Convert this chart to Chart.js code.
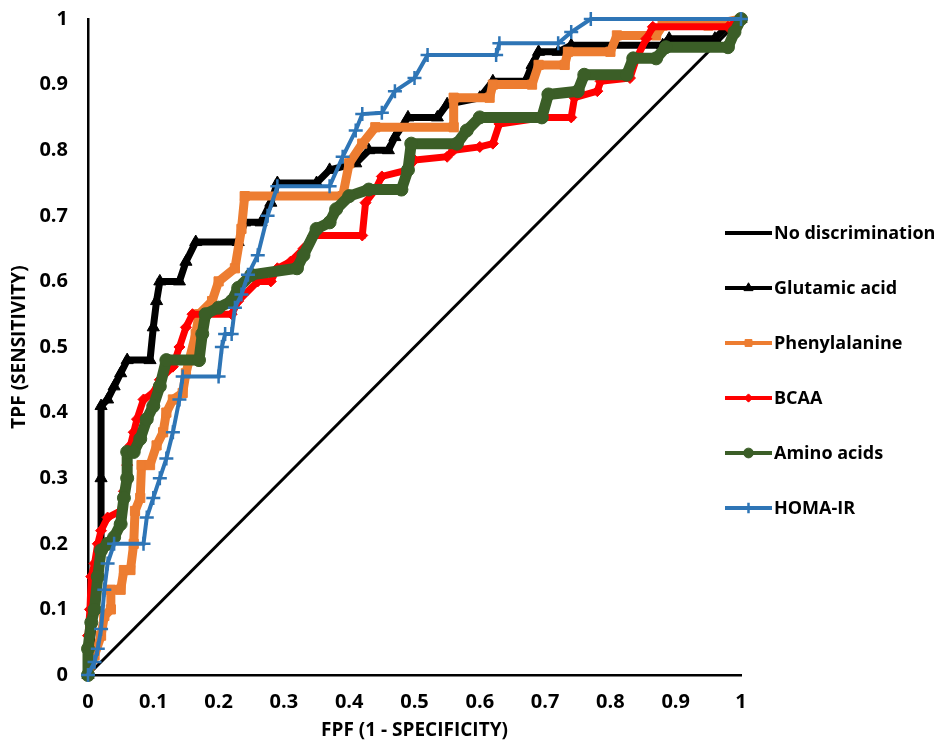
<!DOCTYPE html>
<html>
<head>
<meta charset="utf-8">
<title>ROC curves</title>
<script src="https://cdn.jsdelivr.net/npm/chart.js@4.4.1/dist/chart.umd.min.js"></script>
<style>
  body { margin: 0; background: #fff; }
</style>
</head>
<body>
<canvas id="rocChart" width="941" height="742"></canvas>
<script>
// Tick labels (both axes)
const tickLabels = ['0', '0.1', '0.2', '0.3', '0.4', '0.5', '0.6', '0.7', '0.8', '0.9', '1'];

// Series names, in legend order
const seriesNames = ['No discrimination', 'Glutamic acid', 'Phenylalanine', 'BCAA', 'Amino acids', 'HOMA-IR'];

// ROC vertices: [FPF, TPF]
const noDiscrimination = [[0, 0], [1, 1]];

const glutamicAcid = [[0, 0], [0.005, 0.05], [0.01, 0.1], [0.015, 0.15], [0.02, 0.2], [0.02, 0.3], [0.02, 0.41],
  [0.03, 0.42], [0.04, 0.44], [0.05, 0.46], [0.06, 0.48], [0.095, 0.48], [0.1, 0.53], [0.105, 0.57], [0.11, 0.6],
  [0.14, 0.6], [0.15, 0.63], [0.165, 0.66], [0.23, 0.66], [0.24, 0.69], [0.265, 0.69], [0.28, 0.72], [0.29, 0.75],
  [0.35, 0.75], [0.37, 0.77], [0.41, 0.78], [0.43, 0.8], [0.46, 0.8], [0.47, 0.82], [0.49, 0.85], [0.535, 0.85],
  [0.55, 0.87], [0.6, 0.88], [0.62, 0.905], [0.67, 0.905], [0.68, 0.93], [0.69, 0.95], [0.72, 0.95], [0.74, 0.96],
  [0.88, 0.96], [0.89, 0.97], [0.96, 0.97], [0.98, 0.99], [1, 1]];

const phenylalanine = [[0, 0], [0.01, 0.03], [0.02, 0.06], [0.025, 0.09], [0.035, 0.1], [0.035, 0.13], [0.05, 0.13],
  [0.055, 0.16], [0.065, 0.16], [0.07, 0.2], [0.072, 0.25], [0.08, 0.27], [0.082, 0.32], [0.095, 0.32], [0.105, 0.35],
  [0.115, 0.37], [0.12, 0.4], [0.13, 0.42], [0.145, 0.43], [0.15, 0.46], [0.155, 0.48], [0.165, 0.52], [0.17, 0.55],
  [0.19, 0.57], [0.2, 0.6], [0.225, 0.62], [0.235, 0.68], [0.24, 0.73], [0.39, 0.73], [0.4, 0.78], [0.42, 0.81],
  [0.44, 0.835], [0.56, 0.835], [0.56, 0.88], [0.615, 0.88], [0.62, 0.9], [0.68, 0.9], [0.69, 0.93], [0.73, 0.93],
  [0.735, 0.95], [0.8, 0.95], [0.81, 0.975], [0.87, 0.975], [0.88, 0.99], [0.95, 0.99], [1, 1]];

const bcaa = [[0, 0], [0, 0.06], [0.003, 0.1], [0.005, 0.15], [0.01, 0.17], [0.015, 0.2], [0.02, 0.22], [0.03, 0.24],
  [0.05, 0.25], [0.055, 0.28], [0.06, 0.32], [0.065, 0.35], [0.07, 0.37], [0.075, 0.39], [0.085, 0.42], [0.1, 0.43],
  [0.11, 0.45], [0.13, 0.47], [0.14, 0.5], [0.15, 0.53], [0.16, 0.55], [0.22, 0.55], [0.23, 0.57], [0.26, 0.6],
  [0.28, 0.6], [0.29, 0.62], [0.31, 0.63], [0.33, 0.65], [0.345, 0.67], [0.42, 0.67], [0.425, 0.72], [0.44, 0.74],
  [0.45, 0.76], [0.49, 0.77], [0.5, 0.785], [0.55, 0.79], [0.56, 0.8], [0.6, 0.805], [0.62, 0.81], [0.63, 0.84],
  [0.7, 0.85], [0.74, 0.85], [0.745, 0.88], [0.78, 0.89], [0.785, 0.905], [0.83, 0.91], [0.84, 0.94], [0.855, 0.97],
  [0.865, 0.988], [0.98, 0.988], [1, 1]];

const aminoAcids = [[0, 0], [0, 0.04], [0.005, 0.08], [0.01, 0.1], [0.015, 0.15], [0.02, 0.19], [0.03, 0.2], [0.04, 0.21],
  [0.05, 0.23], [0.055, 0.27], [0.06, 0.3], [0.06, 0.34], [0.07, 0.34], [0.08, 0.36], [0.09, 0.39], [0.1, 0.41],
  [0.11, 0.44], [0.12, 0.48], [0.17, 0.48], [0.175, 0.52], [0.18, 0.55], [0.2, 0.56], [0.22, 0.57], [0.23, 0.59],
  [0.25, 0.61], [0.32, 0.62], [0.33, 0.64], [0.35, 0.68], [0.37, 0.69], [0.38, 0.71], [0.4, 0.73], [0.43, 0.74],
  [0.48, 0.74], [0.49, 0.77], [0.495, 0.81], [0.565, 0.81], [0.58, 0.83], [0.6, 0.85], [0.695, 0.85], [0.705, 0.885],
  [0.75, 0.89], [0.76, 0.915], [0.825, 0.915], [0.835, 0.94], [0.87, 0.94], [0.885, 0.957], [0.98, 0.957], [0.99, 0.98],
  [1, 1]];

const homaIR = [[0, 0], [0.01, 0.02], [0.015, 0.04], [0.02, 0.07], [0.025, 0.13], [0.03, 0.17], [0.04, 0.2], [0.085, 0.2],
  [0.09, 0.24], [0.1, 0.27], [0.11, 0.3], [0.12, 0.33], [0.13, 0.37], [0.14, 0.42], [0.145, 0.455], [0.2, 0.455],
  [0.205, 0.5], [0.21, 0.52], [0.22, 0.52], [0.225, 0.56], [0.235, 0.58], [0.245, 0.61], [0.26, 0.64], [0.275, 0.7],
  [0.29, 0.745], [0.37, 0.745], [0.39, 0.79], [0.41, 0.83], [0.42, 0.855], [0.45, 0.857], [0.47, 0.89], [0.5, 0.91],
  [0.52, 0.945], [0.625, 0.945], [0.63, 0.963], [0.72, 0.963], [0.74, 0.98], [0.77, 1], [1, 1]];

const seriesData = [noDiscrimination, glutamicAcid, phenylalanine, bcaa, aminoAcids, homaIR];

// Look of each series (same order as names)
const seriesColors = ['#000000', '#000000', '#ED7D31', '#FF0000', '#3B5E27', '#2E75B6'];
const lineWidths = [3, 7, 9, 7, 11, 4];
const markerStyles = [false, 'triangle', 'rect', 'rectRot', 'circle', 'cross'];
const markerSizes = [0, 7, 6.5, 5.5, 6.5, 7];

const FONT = '"Open Sans", "DejaVu Sans", sans-serif';

function toPoints(pairs) {
  return pairs.map(p => ({ x: p[0], y: p[1] }));
}

const datasets = seriesNames.map((name, i) => ({
  label: name,
  data: toPoints(seriesData[i]),
  borderColor: seriesColors[i],
  backgroundColor: seriesColors[i],
  borderWidth: lineWidths[i],
  borderJoinStyle: i === 4 ? 'round' : 'miter',
  pointStyle: markerStyles[i],
  pointRadius: markerSizes[i],
  pointHoverRadius: markerSizes[i],
  pointBackgroundColor: seriesColors[i],
  pointBorderColor: seriesColors[i],
  pointBorderWidth: markerStyles[i] === 'cross' ? 2.5 : 1,
  tension: 0,
  fill: false,
  clip: false,
  order: seriesNames.length - 1 - i // later series drawn on top, like Excel
}));

// Legend drawn at the right, overlapping the plot edge like the original
const legendX = 725;
const legendTop = 233;
const legendStep = 55;
const legendLineLen = 47;

const sideLegend = {
  id: 'sideLegend',
  afterDraw(chart) {
    const ctx = chart.ctx;
    chart.data.datasets.forEach((ds, i) => {
      const y = legendTop + i * legendStep;
      ctx.save();
      ctx.strokeStyle = ds.borderColor;
      ctx.lineWidth = 4;
      ctx.beginPath();
      ctx.moveTo(legendX, y);
      ctx.lineTo(legendX + legendLineLen, y);
      ctx.stroke();
      if (ds.pointStyle && Chart.helpers && Chart.helpers.drawPoint) {
        ctx.fillStyle = ds.pointBackgroundColor;
        ctx.strokeStyle = ds.pointBorderColor;
        ctx.lineWidth = ds.pointBorderWidth;
        Chart.helpers.drawPoint(ctx, {
          pointStyle: ds.pointStyle,
          radius: ds.pointRadius * 0.75,
          borderWidth: ds.pointBorderWidth,
          rotation: 0
        }, legendX + legendLineLen / 2, y);
      }
      ctx.fillStyle = '#000';
      ctx.font = 'bold 18px ' + FONT;
      ctx.textBaseline = 'middle';
      ctx.textAlign = 'left';
      ctx.fillText(ds.label, legendX + legendLineLen + 2, y + 1);
      ctx.restore();
    });
  }
};

const axisTicks = {
  color: '#000',
  font: { family: FONT, size: 20, weight: 'bold' },
  stepSize: 0.1,
  autoSkip: false,
  maxRotation: 0,
  callback: (value, index) => tickLabels[index]
};

new Chart(document.getElementById('rocChart').getContext('2d'), {
  type: 'line',
  data: { datasets: datasets },
  options: {
    responsive: false,
    animation: false,
    events: [],
    layout: { padding: { top: 19, right: 200, left: 0, bottom: 0 } },
    plugins: {
      legend: { display: false },
      tooltip: { enabled: false }
    },
    scales: {
      x: {
        type: 'linear',
        min: 0,
        max: 1,
        grid: { display: false, drawTicks: false },
        border: { display: true, color: '#000', width: 2.5 },
        ticks: Object.assign({}, axisTicks, { padding: 15 }),
        title: {
          display: true,
          text: 'FPF (1 - SPECIFICITY)',
          color: '#000',
          font: { family: FONT, size: 19, weight: 'bold' },
          padding: { top: 0, bottom: 0 }
        },
        afterFit(scale) {
          scale.height = 67;
          scale.paddingLeft = 0;
          scale.paddingRight = 0;
        }
      },
      y: {
        type: 'linear',
        min: 0,
        max: 1,
        grid: { display: false, drawTicks: false },
        border: { display: true, color: '#000', width: 2.5 },
        ticks: Object.assign({}, axisTicks, { padding: 20 }),
        title: {
          display: true,
          text: 'TPF (SENSITIVITY)',
          color: '#000',
          font: { family: FONT, size: 19, weight: 'bold' },
          padding: { top: 8, bottom: 0 }
        },
        afterFit(scale) {
          scale.width = 88;
          scale.paddingTop = 0;
          scale.paddingBottom = 0;
        }
      }
    }
  },
  plugins: [sideLegend]
});
</script>
</body>
</html>
